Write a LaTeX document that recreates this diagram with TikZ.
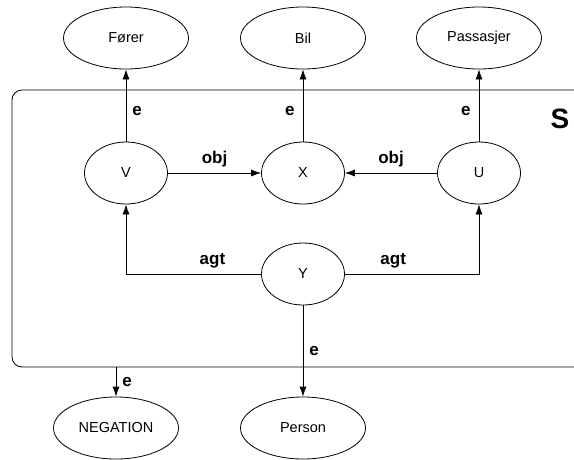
\documentclass[tikz,border=0pt]{standalone}
\usepackage{fontspec}
\setmainfont{Liberation Sans}
\usepackage{tikz}
\usetikzlibrary{shapes.geometric, arrows.meta}

\begin{document}
\begin{tikzpicture}[
    x=1pt, y=-1pt,
    line width=0.8pt,
    big/.style={ellipse, draw, minimum width=125pt, minimum height=62pt, inner sep=0pt, font=\fontsize{14.5}{16}\selectfont},
    small/.style={ellipse, draw, minimum width=83pt, minimum height=62pt, inner sep=0pt, font=\fontsize{14.5}{16}\selectfont},
    lbl/.style={font=\fontsize{17}{19}\selectfont\bfseries},
    arr/.style={-{Latex[length=10pt, width=7pt]}},
    ]
    \useasboundingbox (0,0) rectangle (574,459);
    \node[draw, rounded corners=10pt, minimum width=578pt, minimum height=277pt, inner sep=0pt] (s) at (301,228.5) {};
    \node[font=\fontsize{28}{30}\selectfont\bfseries] (sname) at (560,119) {S};

    \node[big] (forer) at (126,38) {Fører};
    \node[big] (bil) at (303,38) {Bil};
    \node[big] (passasjer) at (479,38) {Passasjer};

    \node[small] (v) at (126,173) {V};
    \node[small] (x) at (303,173) {X};
    \node[small] (u) at (479,173) {U};
    \node[small] (y) at (303,274) {Y};

    \node[big] (negation) at (116,428) {NEGATION};
    \node[big] (person) at (303,428) {Person};

    \draw[arr] (v) -- node[lbl, right, inner sep=6pt, pos=0.42] {e} (forer);
    \draw[arr] (x) -- node[lbl, left, inner sep=8pt, pos=0.42] {e} (bil);
    \draw[arr] (u) -- node[lbl, left, inner sep=8pt, pos=0.42] {e} (passasjer);

    \draw[arr] (v) -- node[lbl, above, inner sep=6pt] {obj} (x);
    \draw[arr] (u) -- node[lbl, above, inner sep=6pt] {obj} (x);

    \draw[arr] (y) -| node[lbl, above, inner sep=6pt, pos=0.18] {agt} (v);
    \draw[arr] (y) -| node[lbl, above, inner sep=6pt, pos=0.18] {agt} (u);

    \draw[arr] (y) -- node[lbl, right, inner sep=6pt] {e} (person);
    \draw[arr] (s.south -| negation) -- node[lbl, right, inner sep=6pt] {e} (negation);
\end{tikzpicture}
\end{document}
